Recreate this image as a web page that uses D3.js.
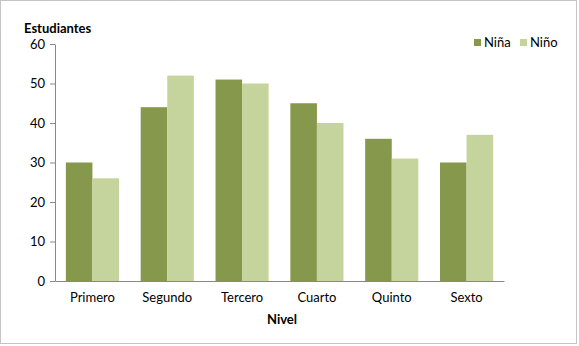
<!DOCTYPE html>
<html><head><meta charset="utf-8">
<script src="https://cdn.jsdelivr.net/npm/d3@7"></script>
<style>body{margin:0;background:#fff;}svg{display:block;font-family:Lato,"Open Sans",sans-serif;}</style>
</head><body>
<script>
const categories = ["Primero","Segundo","Tercero","Cuarto","Quinto","Sexto"];
const seriesNames = ["Niña","Niño"];
const ninaValues = [30,44,51,45,36,30];
const ninoValues = [26,52,50,40,31,37];
const yTicks = [0,10,20,30,40,50,60];
const colors = ["#86984b","#c5d49c"];

const W=579,H=346;
const svg=d3.select("body").append("svg").attr("width",W).attr("height",H);
svg.append("rect").attr("x",0.5).attr("y",0.5).attr("width",W-3).attr("height",H-3)
  .attr("fill","#fff").attr("stroke","#888").attr("stroke-dasharray","1,1");

const x0=d3.scaleBand().domain(categories).range([55,504]).paddingInner(0.29).paddingOuter(0.145);
const x1=d3.scaleBand().domain(seriesNames).range([0,x0.bandwidth()]);
const y=d3.scaleLinear().domain([0,60]).range([281,44]);

const data=categories.map((c,i)=>({cat:c,vals:[ninaValues[i],ninoValues[i]]}));
const g=svg.append("g");
g.selectAll("g.grp").data(data).join("g").attr("transform",d=>`translate(${x0(d.cat)},0)`)
 .selectAll("rect").data(d=>d.vals.map((v,j)=>({v,s:seriesNames[j],j})))
 .join("rect").attr("x",d=>x1(d.s)).attr("width",x1.bandwidth())
 .attr("y",d=>y(d.v)).attr("height",d=>y(0)-y(d.v)).attr("fill",d=>colors[d.j]);

const ya=svg.append("g").attr("transform","translate(55,0)")
 .call(d3.axisLeft(y).tickValues(yTicks).tickSize(5).tickPadding(5).tickSizeOuter(0));
ya.select(".domain").attr("stroke","#888");
ya.selectAll("line").attr("stroke","#888");
ya.selectAll("text").attr("font-size",13).attr("fill","#000").attr("font-family","Lato,sans-serif");

const xa=svg.append("g").attr("transform","translate(0,281)")
 .call(d3.axisBottom(x0).tickSize(0).tickPadding(12).tickSizeOuter(0));
xa.select(".domain").attr("stroke","#888");
xa.selectAll("text").attr("font-size",13).attr("fill","#000").attr("font-family","Lato,sans-serif");

svg.append("text").attr("x",24).attr("y",33).attr("font-size",13).attr("font-weight","bold").text("Estudiantes");
svg.append("text").attr("x",282).attr("y",324).attr("text-anchor","middle").attr("font-size",13).attr("font-weight","bold").text("Nivel");

const legX=[474,520];
seriesNames.forEach((s,i)=>{
  svg.append("rect").attr("x",legX[i]).attr("y",39).attr("width",7).attr("height",7).attr("fill",colors[i]);
  svg.append("text").attr("x",legX[i]+10).attr("y",47).attr("font-size",13).text(s);
});
</script>
</body></html>
